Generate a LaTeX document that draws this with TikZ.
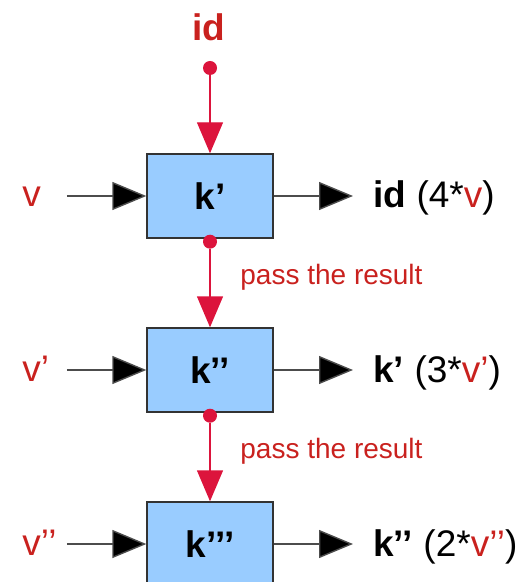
\documentclass[tikz,border=0pt]{standalone}
\usepackage{fontspec}
\setmainfont{Liberation Sans}
\usetikzlibrary{arrows.meta}
\definecolor{lblred}{HTML}{C9211E}
\definecolor{dotred}{HTML}{DC143C}
\definecolor{boxblue}{HTML}{99CCFF}
\tikzset{
  kbox/.style={draw=black!80,line width=0.7pt,fill=boxblue,minimum width=63pt,minimum height=42pt,inner sep=0,font=\fontsize{18.5}{20}\selectfont\bfseries},
  inlbl/.style={anchor=west,inner sep=0,text width=22pt,align=left,text height=13pt,text depth=2pt,font=\fontsize{18.5}{20}\selectfont,text=lblred},
  outlbl/.style={anchor=west,inner xsep=10pt,inner ysep=0,text height=14pt,text depth=2pt,font=\fontsize{18.5}{20}\selectfont},
  passlbl/.style={anchor=west,inner sep=0,font=\fontsize{14}{16}\selectfont,text=lblred},
  rdot/.style={circle,fill=dotred,inner sep=0,minimum size=7pt},
  flow/.style={draw=black!70,line width=0.7pt,-{Triangle[length=17pt,width=14pt,fill=black]}},
  redflow/.style={draw=dotred,line width=0.7pt,-{Triangle[length=15.5pt,width=13pt,fill=dotred]}}
}
\begin{document}
\begin{tikzpicture}[x=0.5pt,y=-0.5pt]
\useasboundingbox (0,0) rectangle (524,582);
\clip (0,0) rectangle (524,582);
% source
\node[font=\fontsize{18.5}{20}\selectfont\bfseries,text=lblred,inner sep=0] (id) at (209,27) {id};
\node[rdot] (dot0) at (210,68) {};
% the three boxes
\node[kbox] (box1) at (210,196) {k’};
\node[kbox] (box2) at (210,370) {k’’};
\node[kbox] (box3) at (210,544) {k’’’};
\node[rdot] (dot1) at ([yshift=-1.5pt]box1.south) {};
\node[rdot] (dot2) at ([yshift=-1.5pt]box2.south) {};
% inputs
\node[inlbl] (in1) at (22,196) {v};
\node[inlbl] (in2) at (22,370) {v’};
\node[inlbl] (in3) at (22,544) {v’’};
% outputs
\node[outlbl] (out1) at (353,196) {\textbf{id} (4*\textcolor{lblred}{v})};
\node[outlbl] (out2) at (353,370) {\textbf{k’} (3*\textcolor{lblred}{v’})};
\node[outlbl] (out3) at (353,544) {\textbf{k’’} (2*\textcolor{lblred}{v’’})};
\node[passlbl] (pass1) at (240,277) {pass the result};
\node[passlbl] (pass2) at (240,451) {pass the result};
\draw[redflow] (dot0) -- (box1);
\draw[redflow] (dot1) -- (box2);
\draw[redflow] (dot2) -- (box3);
\foreach \i in {1,2,3}{
  \draw[flow] (in\i) -- (box\i);
  \draw[flow] (box\i) -- (out\i);
}
\end{tikzpicture}
\end{document}
